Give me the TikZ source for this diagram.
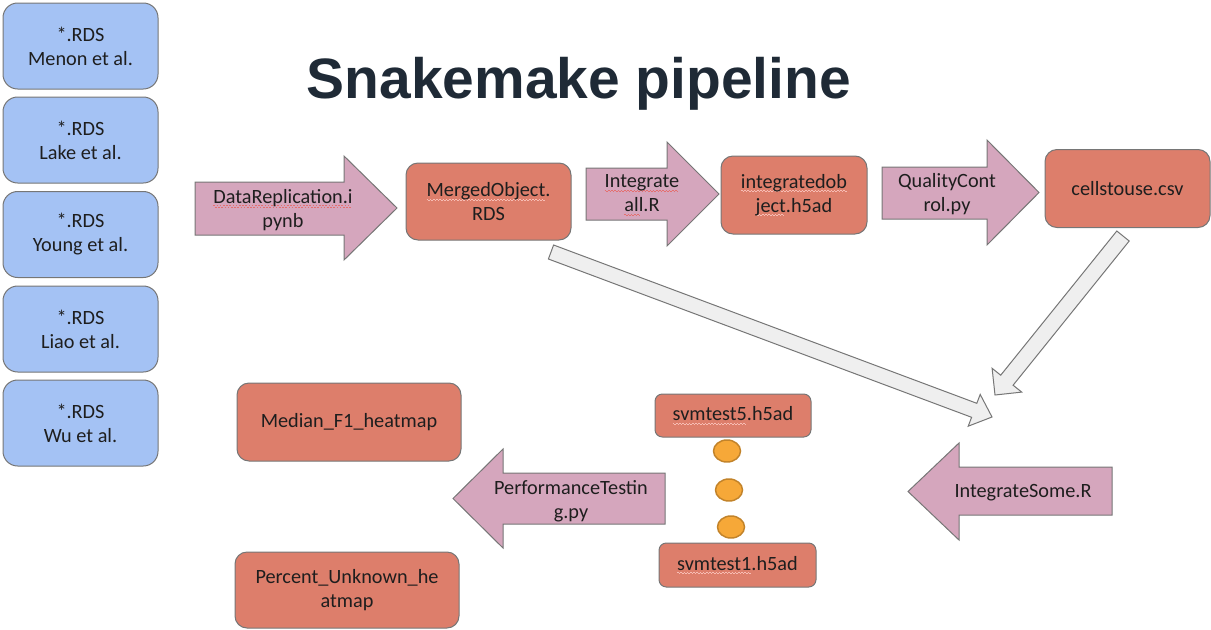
\documentclass[tikz,border=0pt]{standalone}
\usepackage{fontspec}
\setmainfont{Carlito}
\newfontfamily\titlefont{Liberation Sans}
\usetikzlibrary{shapes.geometric}
\definecolor{bluefill}{HTML}{A4C2F4}
\definecolor{redfill}{HTML}{DD7E6B}
\definecolor{pinkfill}{HTML}{D5A6BD}
\definecolor{grayfill}{HTML}{EFEFEF}
\definecolor{orangefill}{HTML}{F6A838}
\definecolor{orangeline}{HTML}{C2832A}
\definecolor{edgegray}{HTML}{767676}
\definecolor{ink}{HTML}{1E1E1E}
\definecolor{titleink}{HTML}{1F2A36}
\definecolor{sqred}{HTML}{E46F6F}
\definecolor{sqlight}{HTML}{F7BDB4}
\newbox\sqbox
\newcommand\sqgen[2]{\setbox\sqbox\hbox{#2}\rlap{\color{#1}\leaders\hbox{\rule[-2.1pt]{1.2pt}{0.55pt}\rule[-2.9pt]{1.2pt}{0.55pt}}\hskip\wd\sqbox}\box\sqbox}
\newcommand\sqw[1]{\sqgen{sqred}{#1}}
\newcommand\sql[1]{\sqgen{sqlight}{#1}}
\tikzset{
  txt/.style={text=ink, font=\fontsize{15.2}{18}\selectfont, align=center, inner sep=0pt},
  basebox/.style={txt, draw=edgegray, line width=0.75pt},
  srcbox/.style={basebox, fill=bluefill, rounded corners=11pt, minimum width=116.25pt, minimum height=64.5pt},
  filebox/.style={basebox, fill=redfill, rounded corners=9pt},
  smallfile/.style={basebox, fill=redfill, rounded corners=5.5pt},
  parrow/.style={draw=edgegray, fill=pinkfill, line width=0.75pt, line join=miter},
  garrow/.style={draw=edgegray, fill=grayfill, line width=0.75pt, line join=miter},
  orangedot/.style={ellipse, draw=orangeline, fill=orangefill, line width=1.1pt, minimum width=20.25pt, minimum height=16.5pt, inner sep=0pt}
}
\begin{document}
\begin{tikzpicture}[x=0.75pt,y=-0.75pt]
\useasboundingbox (0,0) rectangle (1211,629);
% title
\node[anchor=base, text=titleink, inner sep=0pt, font=\titlefont\bfseries\fontsize{42.7}{50}\selectfont] (title) at (579,98) {Snakemake pipeline};
% source boxes
\node[srcbox] (src1) at (80.5,46) {*.RDS\\Menon et al.};
\node[srcbox] (src2) at (80.5,140) {*.RDS\\Lake et al.};
\node[srcbox] (src3) at (80.5,234.5) {*.RDS\\Young et al.};
\node[srcbox] (src4) at (80.5,329) {*.RDS\\Liao et al.};
\node[srcbox] (src5) at (80.5,423) {*.RDS\\Wu et al.};
% grey block arrows
\draw[garrow] (548.4,259.0) -- (971.6,417.3) -- (968.2,426.2) -- (992,417) -- (980.2,394.4) -- (976.8,403.3) -- (553.6,245.0) -- cycle;
\draw[garrow] (1116.8,231.0) -- (1000.7,375.2) -- (992.1,368.3) -- (995,395) -- (1021.7,392.1) -- (1013.1,385.2) -- (1129.2,241.0) -- cycle;
% pink block arrows
\draw[parrow] (195,182) -- (344,182) -- (344,156) -- (397,208) -- (344,260) -- (344,235) -- (195,235) -- cycle;
\draw[parrow] (586,168) -- (667,168) -- (667,142) -- (719,194) -- (667,246) -- (667,220) -- (586,220) -- cycle;
\draw[parrow] (882,167) -- (987,167) -- (987,140) -- (1039,192.5) -- (987,245) -- (987,219) -- (882,219) -- cycle;
\draw[parrow] (665,473) -- (503,473) -- (503,449) -- (453,498.5) -- (503,548) -- (503,524) -- (665,524) -- cycle;
\draw[parrow] (1112,467) -- (959,467) -- (959,443) -- (908,491.5) -- (959,540) -- (959,515) -- (1112,515) -- cycle;
\node[txt] (step1) at (283,210) {\sqw{DataReplication.i}\\pynb};
\node[txt] (step2) at (642,195) {\sqw{Integrate}\\\sqw{all}.R};
\node[txt] (step3) at (947,194) {QualityCont\\rol.py};
\node[txt] (step4) at (571,501) {PerformanceTestin\\g.py};
\node[txt] (step5) at (1023,493) {IntegrateSome.R};
% file boxes
\node[filebox, minimum width=123.75pt, minimum height=57.75pt] (merged) at (488.5,201.5) {\sql{MergedObject}.\\RDS};
\node[filebox, minimum width=109.5pt, minimum height=58.5pt] (integ) at (794,195) {\sql{integratedob}\\\sql{ject}.h5ad};
\node[filebox, minimum width=123.75pt, minimum height=58.5pt] (cells) at (1127.5,188.5) {cellstouse.csv};
\node[filebox, minimum width=168pt, minimum height=58.5pt] (median) at (349,422) {Median\_F1\_heatmap};
\node[filebox, minimum width=168pt, minimum height=57pt] (percent) at (347,590) {Percent\_Unknown\_he\\atmap};
\node[smallfile, minimum width=117pt, minimum height=32.25pt] (svm5) at (733,415.5) {\sql{svmtest5}.h5ad};
\node[smallfile, minimum width=117.75pt, minimum height=33pt] (svm1) at (737.5,565) {\sql{svmtest1}.h5ad};
% dots
\node[orangedot] (dot1) at (727,451) {};
\node[orangedot] (dot2) at (729,490) {};
\node[orangedot] (dot3) at (731,527) {};
\end{tikzpicture}
\end{document}
